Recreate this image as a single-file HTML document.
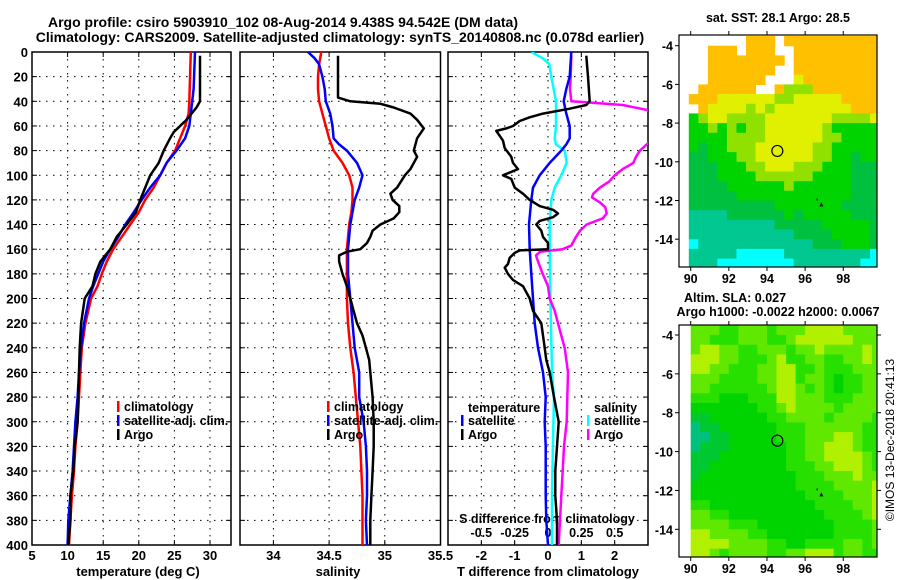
<!DOCTYPE html>
<html><head><meta charset="utf-8"><style>
html,body{margin:0;padding:0;background:#fff;}
svg{display:block;font-family:"Liberation Sans",sans-serif;font-weight:bold;}
</style></head><body>
<svg id="fig" width="900" height="580" viewBox="0 0 900 580">
<text x="283" y="27" font-size="14" text-anchor="middle">Argo profile: csiro 5903910_102 08-Aug-2014 9.438S 94.542E (DM data)</text>
<text x="340" y="42" font-size="14" text-anchor="middle">Climatology: CARS2009. Satellite-adjusted climatology: synTS_20140808.nc (0.078d earlier)</text>
<g id="g1"></g><g id="g2"></g><g id="g3"></g><g id="m1"></g><g id="m2"></g>
<text transform="translate(894,440) rotate(-90)" font-size="12" font-weight="normal" text-anchor="middle">©IMOS 13-Dec-2018 20:41:13</text>
</svg>
<script>
// ---------- data ----------
const depthTicks=[0,20,40,60,80,100,120,140,160,180,200,220,240,260,280,300,320,340,360,380,400];
const tempTicks=[5,10,15,20,25,30];
const salTicks=[34,34.5,35,35.5];
const tdiffTicks=[-2,-1,0,1,2];
const sdiffTicks=[-0.5,-0.25,0,0.25,0.5];
// temperature
const tArgoP=[3,40,45,50,55,60,65,70,80,90,100,110,120,130,140,150,160,170,180,190,200,220,240,260,280,300,320,340,360,380,400];
const tArgoV=[28.6,28.6,28.1,27.4,26.7,25.8,24.9,24.4,23.5,22.8,21.6,20.9,20.2,19.6,18.3,16.9,16.0,14.6,13.9,13.5,12.4,11.9,11.7,11.6,11.5,11.4,11.0,10.8,10.4,10.4,10.1];
const tClimP=[0,40,50,60,70,80,90,100,110,120,130,140,150,160,170,180,190,200,220,240,260,280,300,320,340,360,380,400];
const tClimV=[27.3,27.1,27.0,26.5,25.8,25.1,23.9,23.0,22.1,20.9,20.0,18.8,17.6,16.4,15.5,14.8,14.2,13.3,12.5,12.0,11.8,11.6,11.4,11.1,10.9,10.6,10.4,10.2];
const tSatP=[0,30,45,60,70,80,90,100,110,120,130,140,150,160,170,180,190,200,220,240,260,280,300,320,340,360,380,400];
const tSatV=[27.9,27.7,27.4,27.1,26.5,25.3,23.9,23.0,21.6,20.4,19.3,18.1,17.1,16.0,15.0,14.3,13.6,13.0,12.3,11.9,11.6,11.4,11.1,10.9,10.7,10.4,10.1,10.0];
// salinity
const sArgoP=[3,37,40,42,45,50,55,62,70,80,85,95,100,110,115,120,125,130,135,140,145,150,155,160,162,165,170,180,190,200,210,220,230,240,250,260,280,300,320,340,360,380,400];
const sArgoV=[34.58,34.58,34.69,34.96,35.08,35.23,35.29,35.35,35.29,35.26,35.29,35.23,35.18,35.11,35.05,35.07,35.13,35.13,35.08,34.96,34.89,34.87,34.84,34.78,34.66,34.59,34.59,34.62,34.66,34.69,34.72,34.75,34.80,34.83,34.86,34.87,34.89,34.90,34.90,34.89,34.88,34.87,34.87];
const sClimP=[0,10,20,30,40,50,60,70,80,90,100,110,120,130,140,160,180,200,220,240,260,280,300,320,340,360,380,400];
const sClimV=[34.43,34.41,34.40,34.40,34.41,34.44,34.47,34.50,34.54,34.62,34.68,34.71,34.71,34.70,34.68,34.66,34.66,34.66,34.67,34.69,34.72,34.74,34.76,34.78,34.79,34.80,34.80,34.80];
const sSatP=[0,5,10,20,30,40,50,60,70,75,80,90,100,110,120,130,140,160,180,200,220,240,260,280,300,320,340,360,380,400];
const sSatV=[34.31,34.37,34.41,34.44,34.46,34.47,34.51,34.53,34.54,34.59,34.66,34.75,34.80,34.77,34.73,34.71,34.69,34.67,34.67,34.69,34.71,34.73,34.77,34.77,34.81,34.83,34.84,34.84,34.83,34.84];
// differences
const dTArgoP=[3,20,40,43,46,50,53,56,60,62,64,68,72,78,85,90,95,100,103,110,115,120,125,128,131,134,137,140,145,150,155,160,161,163,167,172,175,180,185,190,200,210,220,230,240,250,260,280,300,320,340,360,380,400];
const dTArgoV=[1.15,1.2,1.25,1.15,0.65,-0.15,-0.55,-0.85,-1.05,-1.25,-1.55,-1.45,-1.35,-1.3,-1.1,-1.05,-0.9,-1.35,-1.1,-1.0,-0.75,-0.55,-0.25,0.15,0.3,0.15,-0.25,-0.35,-0.2,-0.15,0,0,-0.85,-1.0,-1.15,-1.2,-1.3,-1.2,-1.05,-0.75,-0.55,-0.45,-0.2,-0.15,-0.1,-0.05,0.05,0.18,0.32,0.27,0.22,0.22,0.27,0.27];
const dTSatP=[0,20,30,40,50,60,70,75,80,90,100,110,120,140,160,180,200,220,240,260,280,300,320,360,380,400];
const dTSatV=[0.7,0.65,0.55,0.47,0.55,0.65,0.65,0.55,0.4,0.05,-0.25,-0.45,-0.5,-0.57,-0.55,-0.5,-0.45,-0.4,-0.3,-0.15,-0.07,-0.1,-0.07,-0.07,-0.05,0];
const dSSatP=[0,5,10,20,40,60,70,75,80,90,100,110,120,140,160,200,260,280,320,360,400];
const dSSatV=[-0.125,-0.04,0.01,0.025,0.06,0.06,0.05,0.06,0.125,0.14,0.1,0.05,0.025,0.0125,0.0125,0.018,0.03,0.045,0.037,0.03,0.03];
const dSArgoP=[3,20,30,40,41,43,47,55,65,75,80,85,90,95,100,105,110,115,118,122,126,131,135,140,145,150,157,160,162,165,170,180,190,200,210,220,230,240,260,280,300,320,340,360,380,400];
const dSArgoV=[0.175,0.17,0.165,0.175,0.31,0.56,0.74,0.85,0.85,0.74,0.69,0.66,0.64,0.56,0.5,0.46,0.39,0.34,0.33,0.39,0.43,0.44,0.41,0.29,0.24,0.21,0.175,0.11,-0.06,-0.09,-0.075,-0.04,0,0.0125,0.05,0.075,0.1,0.125,0.15,0.145,0.14,0.12,0.11,0.1,0.09,0.08];
// maps
const mapLonTicks=[90,92,94,96,98];
const mapLatTicks=[-4,-6,-8,-10,-12,-14];
const sstRows=["WWWWWWOOOWOOOOOOOOOO","WWOOOWOOOWWOOOOOOOOO","WWOOOOOOOOWOOOOOOOOO","WWOOOOOOOWWOOOOOOOOO","WWOOOOOOWWWYOOOOOOOO","WOOOOOOWWOLLLOOOOOOO","OOOYYYYYYLLYYYYYOOOO","WOYYYYLYLYYYYYYYYOOO","GLYYLLLLYYYYYYYLLLLY","GGLGLGLLYYYYYYLGGGGG","GGGGLLLLYYYYYYLLGGGG","GDGGLLLYYYYYYLLGGGGG","DDGGGLLYYYYYYLLGGDGG","DDDGGGLLYYYLLLGGGDDD","DDDGGGGLLLLLLGGGGDDD","DDDDGGGGGGLGGGGGGDDD","DDDDDGGGGGGGGGGGGDDD","DDDDDDDDDGGGGGGGDDDD","TTTTDDDDDDGDGGGGGDDD","TTTTTTTTTDDDDDGGGGGD","TTTTTTTTTTTDDDDGGGGD","CTTTTTTTTTTTTDDDGGGD","TTTTTCCCCCTTTTTTTTTC","TTTCCCCCCCCTTTTTTTCC"];
const slaRows=["LLLGGLLLGLLLYYYYLLLL","LLGGGLLLGGLYYYYYYLLL","LYYLLGGLLLGLLYLLLLYL","YYYLLGGGLYGGLLGGLLYL","YYLLGGGLLYYGGLGGGLLL","LLLGGGGLLYYGLLGDGGLL","LLGGGGGGLYYLGLGDGGLL","GGGDDDGGGYYLLLGGGLLL","DDDDDDDGGLYLLLLGLLLL","EEDDDDDDGGLLLLGLLLLG","TEEDDDDDDGGGLLLLLLGG","TTEEDDDDDGGGLLLYYLGG","TEEEDDDDDDGGLLYYYLGG","EEEDDDDDDDGGLLYYYYLG","EEDDDDDDDDGGGLLYYYLG","EDDDDDDDDDDGGGLLLYLL","DDDDDDDDDDDGGGGLLLLY","DDDDDDDDDDDDGGGGLLLY","GGDDDDDDDDDDDGGGGLLY","LLGGDDDDDDDDDDGGGGLY","LLLLGGGDDDDDDDDGGGGL","YYLLLLGGDDDDDDDGGGGL","YYYYLLLLGGDDGGGGLLGL","YYLGLLLLGGLLYYYGLLGG"];
const argoLon=94.542, argoLat=-9.438;
// ---------- drawing ----------
const NS="http://www.w3.org/2000/svg";
function mk(parent,tag,attrs){const e=document.createElementNS(NS,tag);for(const k in attrs)e.setAttribute(k,attrs[k]);parent.appendChild(e);return e;}
const Y0=52,Y1=545;
function yD(p){return Y0+(p/400)*(Y1-Y0);}
function panel(gid,x0,x1,vmin,vmax,name){
  const g=document.getElementById(gid);
  const sx=v=>x0+(v-vmin)/(vmax-vmin)*(x1-x0);
  const cp=mk(g,'clipPath',{id:'cp'+gid});
  mk(cp,'rect',{x:x0,y:Y0,width:x1-x0,height:Y1-Y0});
  return {g,sx,x0,x1,name};
}
function grid(P,vt){
  depthTicks.forEach(p=>{if(p>0&&p<400){const l=mk(P.g,'line',{x1:P.x0,x2:P.x1,y1:yD(p),y2:yD(p),stroke:'#000','stroke-width':1,'stroke-dasharray':'1.5,5.5'});
  
  }});
  vt.forEach(v=>{const x=P.sx(v);if(x>P.x0+1&&x<P.x1-1){const l=mk(P.g,'line',{x1:x,x2:x,y1:Y0,y2:Y1,stroke:'#000','stroke-width':1,'stroke-dasharray':'1.5,5.5'});
  
  }});
  depthTicks.forEach(p=>{mk(P.g,'line',{x1:P.x0,x2:P.x0+5,y1:yD(p),y2:yD(p),stroke:'#000'});mk(P.g,'line',{x1:P.x1-5,x2:P.x1,y1:yD(p),y2:yD(p),stroke:'#000'});});
  vt.forEach(v=>{const x=P.sx(v);mk(P.g,'line',{x1:x,x2:x,y1:Y1,y2:Y1-5,stroke:'#000'});mk(P.g,'line',{x1:x,x2:x,y1:Y0,y2:Y0+5,stroke:'#000'});});
  const r=mk(P.g,'rect',{x:P.x0,y:Y0,width:P.x1-P.x0,height:Y1-Y0,fill:'none',stroke:'#000','stroke-width':1.5});
  
  
}
function line(P,ps,vs,col,name,sx){
  sx=sx||P.sx;
  const d=ps.map((p,i)=>(i?'L':'M')+sx(vs[i]).toFixed(1)+','+yD(p).toFixed(1)).join('');
  const e=mk(P.g,'path',{d:d,fill:'none',stroke:col,'stroke-width':2.5,'clip-path':'url(#cp'+P.g.id+')','stroke-linejoin':'round'});
  
  
}
function txt(g,x,y,s,size,anchor,name){const t=mk(g,'text',{x:x,y:y,'font-size':size,'text-anchor':anchor||'start'});t.textContent=s;
  
  return t;}
function legend(g,x,y,col,label){
  mk(g,'rect',{x:x,y:y-10,width:2.5,height:11,fill:col});
  const t=txt(g,x+7,y,label,12.5,'start','legend-entry');
}
// panel 1
const P1=panel('g1',32,231,5,32.95,'temperature-panel');
grid(P1,tempTicks);
depthTicks.forEach(p=>{const t=txt(P1.g,28,yD(p)+5,String(p),13,'end','depth-tick-label');});
tempTicks.forEach(v=>{txt(P1.g,P1.sx(v),560,String(v),13,'middle','temp-tick-label');});
txt(P1.g,138,576,'temperature (deg C)',13,'middle','x-axis-title-temperature');
line(P1,tClimP,tClimV,'#ff0000','line-temp-climatology');
line(P1,tSatP,tSatV,'#0000ff','line-temp-satellite');
line(P1,tArgoP,tArgoV,'#000','line-temp-argo');
legend(P1.g,117,411,'#ff0000','climatology');legend(P1.g,117,425,'#0000ff','satellite-adj. clim.');legend(P1.g,117,439,'#000','Argo');
// panel 2
const P2=panel('g2',240,440.5,33.7,35.5,'salinity-panel');
grid(P2,salTicks);
salTicks.forEach(v=>{txt(P2.g,P2.sx(v),560,String(v),13,'middle','sal-tick-label');});
txt(P2.g,338,576,'salinity',13,'middle','x-axis-title-salinity');
line(P2,sClimP,sClimV,'#ff0000','line-sal-climatology');
line(P2,sSatP,sSatV,'#0000ff','line-sal-satellite');
line(P2,sArgoP,sArgoV,'#000','line-sal-argo');
legend(P2.g,327,411,'#ff0000','climatology');legend(P2.g,327,425,'#0000ff','satellite-adj. clim.');legend(P2.g,327,439,'#000','Argo');
// panel 3
const P3=panel('g3',448,648,-3,3,'difference-panel');
grid(P3,tdiffTicks);
const sxS=v=>P3.sx(v*4);
tdiffTicks.forEach(v=>{txt(P3.g,P3.sx(v),560,String(v),13,'middle','tdiff-tick-label');});
txt(P3.g,548,576,'T difference from climatology',13,'middle','x-axis-title-tdiff');
txt(P3.g,547,523,'S difference from climatology',12.5,'middle','s-axis-title');
sdiffTicks.forEach(v=>{txt(P3.g,sxS(v),537,String(v),12.5,'middle','sdiff-tick-label');});
line(P3,dSSatP,dSSatV,'#00ffff','line-sdiff-satellite',sxS);
line(P3,dSArgoP,dSArgoV,'#ff00ff','line-sdiff-argo',sxS);
line(P3,dTSatP,dTSatV,'#0000ff','line-tdiff-satellite');
line(P3,dTArgoP,dTArgoV,'#000','line-tdiff-argo');
txt(P3.g,468,412,'temperature',12.5,'start','legend-heading-temperature');
legend(P3.g,461,425,'#0000ff','satellite');legend(P3.g,461,439,'#000','Argo');
txt(P3.g,594,412,'salinity',12.5,'start','legend-heading-salinity');
legend(P3.g,587,425,'#00ffff','satellite');legend(P3.g,587,439,'#ff00ff','Argo');
// maps
const MX0=679,MX1=877;
const lonX=l=>690.7+(l-90)*19.07;
function map(gid,top,bot,latYfn,rows,pal,title,name,rightTicks,dataStartLon){
  const g=document.getElementById(gid);
  const cp=mk(g,'clipPath',{id:'cp'+gid});mk(cp,'rect',{x:MX0,y:top,width:MX1-MX0,height:bot-top});
  const cg=mk(g,'g',{'clip-path':'url(#cp'+gid+')'});
  rows.forEach((row,j)=>{for(let i=0;i<row.length;i++){const c=pal[row[i]];if(!c)continue;
    const lon=dataStartLon+i*0.5,lat=-3.5-j*0.5;
    const x=lonX(lon),y=latYfn(lat);
    const r=mk(cg,'rect',{x:x.toFixed(1),y:y.toFixed(1),width:(lonX(lon+0.5)-x+0.6).toFixed(1),height:(latYfn(lat-0.5)-y+0.6).toFixed(1),fill:c});
    
    }});
  const ci=mk(g,'circle',{cx:lonX(argoLon),cy:latYfn(argoLat),r:5.5,fill:'none',stroke:'#000','stroke-width':1.2});
  
  
  const tx=lonX(96.85),ty=latYfn(-12.2);
  mk(g,'path',{d:`M${tx-2},${ty+2}L${tx+2},${ty+2}L${tx},${ty-2}Z`,fill:'#000'});
  mk(g,'rect',{x:lonX(96.6),y:latYfn(-11.9),width:1,height:2,fill:'#000'});
  mk(g,'rect',{x:MX0,y:top,width:MX1-MX0,height:bot-top,fill:'none',stroke:'#000','stroke-width':1.2});
  mapLonTicks.forEach(l=>{const x=lonX(l);mk(g,'line',{x1:x,x2:x,y1:bot,y2:bot+4,stroke:'#000'});mk(g,'line',{x1:x,x2:x,y1:top,y2:top-4,stroke:'#000'});
    txt(g,x,bot+16,String(l),12.5,'middle','map-lon-label');});
  mapLatTicks.forEach(l=>{const y=latYfn(l);mk(g,'line',{x1:MX0-4,x2:MX0,y1:y,y2:y,stroke:'#000'});if(rightTicks)mk(g,'line',{x1:MX1,x2:MX1+4,y1:y,y2:y,stroke:'#000'});
    txt(g,MX0-6,y+5,String(l),12.5,'end','map-lat-label');});
  
  
}
const pal1={O:'#ffc000',Y:'#e0f000',L:'#90e000',G:'#00d400',D:'#00c040',T:'#00c890',C:'#00ffff'};
const pal2={Y:'#b0f000',L:'#60e800',G:'#28e000',D:'#00d400',E:'#00c830',T:'#00c080'};
map('m1',35,267,lat=>45.7+(-4-lat)*19.35,sstRows,pal1,'','sst-map',false,89.9);
map('m2',325,557,lat=>335+(-4-lat)*19.43,slaRows,pal2,'','sla-map',true,90);
const mg=document.getElementById('m1');
txt(mg,778,22,'sat. SST: 28.1 Argo: 28.5',12.5,'middle','sst-map-title');
txt(mg,735,302,'Altim. SLA: 0.027',12.5,'middle','sla-map-title');
txt(mg,778,316,'Argo h1000: -0.0022 h2000: 0.0067',12.5,'middle','sla-map-subtitle');
</script>
</body></html>
